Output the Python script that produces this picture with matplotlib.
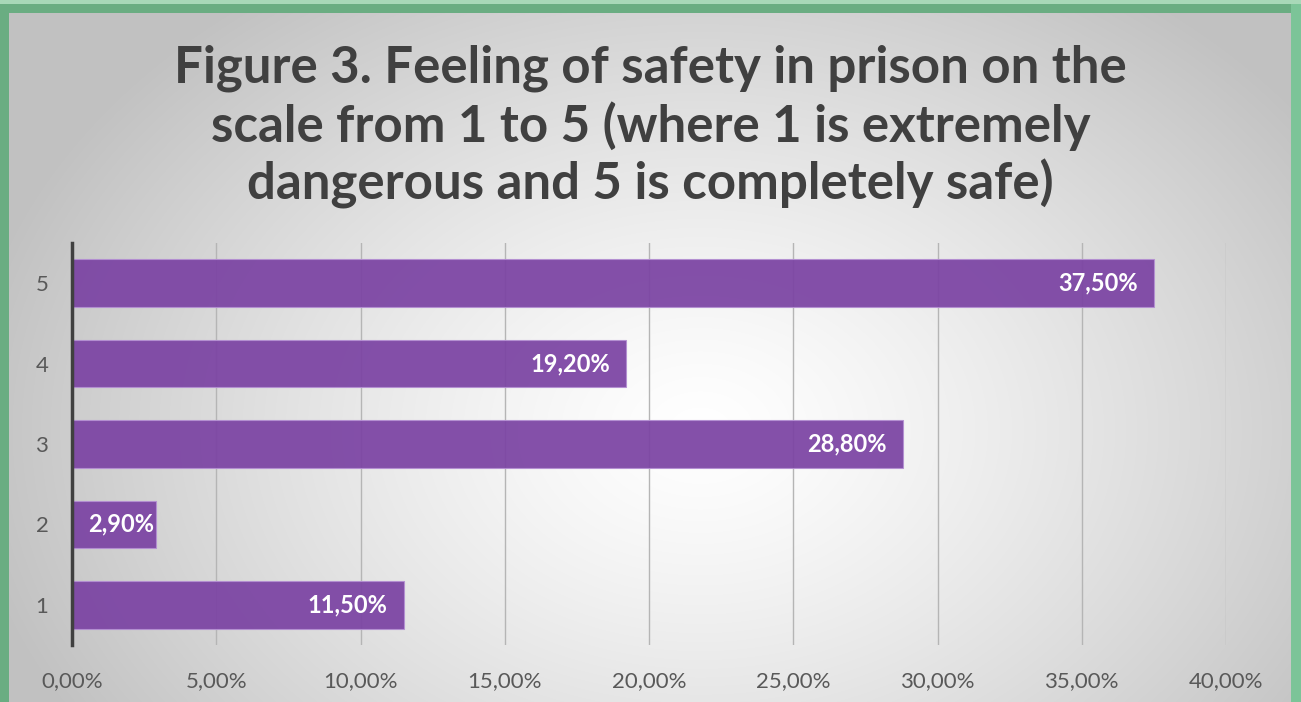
import numpy as np
import matplotlib.pyplot as plt
from matplotlib.patches import Rectangle
from matplotlib.ticker import FuncFormatter

# survey answers, share of respondents per safety score
scores = ["1", "2", "3", "4", "5"]
shares = [11.5, 2.9, 28.8, 19.2, 37.5]

title = ("Figure 3. Feeling of safety in prison on the\n"
         "scale from 1 to 5 (where 1 is extremely\n"
         "dangerous and 5 is completely safe)")

W, H, DPI = 1301, 702, 100
fig = plt.figure(figsize=(W / DPI, H / DPI), dpi=DPI)

# radial grey-to-white background
bg = fig.add_axes([0, 0, 1, 1], zorder=-10)
yy, xx = np.mgrid[0:H, 0:W]
r = np.hypot((xx - 700) / 760, (yy - 430) / 560)
shade = np.clip(1 - 0.25 * r ** 1.3, 0.76, 1.0)
bg.imshow(np.dstack([shade] * 3), extent=[0, W, H, 0], aspect="auto")
bg.set_xlim(0, W)
bg.set_ylim(H, 0)
bg.axis("off")

# green frame on left, top and right
green = "#6aad82"
for x, y, w, h, c in [
    (0, 0, 9, H, green),
    (0, 0, W, 13, green),
    (W - 10, 0, 10, H, "#7cc498"),
]:
    bg.add_patch(Rectangle((x, y), w, h, color=c, lw=0))
bg.add_patch(Rectangle((0, 0), W, 4, color="#a8d8b8", lw=0))

fig.text(0.5, 1 - 45 / H, title, ha="center", va="top", fontsize=36.7,
         fontweight="bold", color="#404040", family="Lato", linespacing=1.21)

ax = fig.add_axes([72 / W, 1 - 645 / H, 1154 / W, 402 / H])
ax.patch.set_alpha(0)

ypos = np.arange(len(scores))
ax.barh(ypos, shares, height=0.59, color="#7b43a3", alpha=0.93,
        edgecolor="#b48fd2", linewidth=0.8, zorder=3)

for y, v in zip(ypos, shares):
    label = f"{v:.2f}%".replace(".", ",")
    if v < 6:
        ax.annotate(label, (0, y), xytext=(11.5, 0), textcoords="offset points",
                    ha="left", va="center", color="white", fontsize=17,
                    fontweight="bold", family="Lato", zorder=4)
    else:
        ax.annotate(label, (v, y), xytext=(-11.5, 0), textcoords="offset points",
                    ha="right", va="center", color="white", fontsize=17,
                    fontweight="bold", family="Lato", zorder=4)

ax.set_xlim(0, 40)
ax.set_ylim(-0.5, 4.5)
ax.set_xticks(np.arange(0, 41, 5))
ax.xaxis.set_major_formatter(FuncFormatter(lambda v, _: f"{v:.2f}%".replace(".", ",")))
ax.set_yticks(ypos)
ax.set_yticklabels(scores)
ax.grid(axis="x", color="#b5b5b5", linewidth=1, zorder=0)
ax.tick_params(axis="both", length=0, labelsize=16, labelcolor="#595959")
ax.tick_params(axis="x", pad=19)
ax.tick_params(axis="y", pad=17)
for lbl in ax.get_xticklabels() + ax.get_yticklabels():
    lbl.set_family("Lato")

for side in ["top", "right", "bottom"]:
    ax.spines[side].set_visible(False)
ax.spines["left"].set_color("#404040")
ax.spines["left"].set_linewidth(2.5)
ax.spines["left"].set_zorder(5)

fig.savefig("out.png", dpi=DPI)
